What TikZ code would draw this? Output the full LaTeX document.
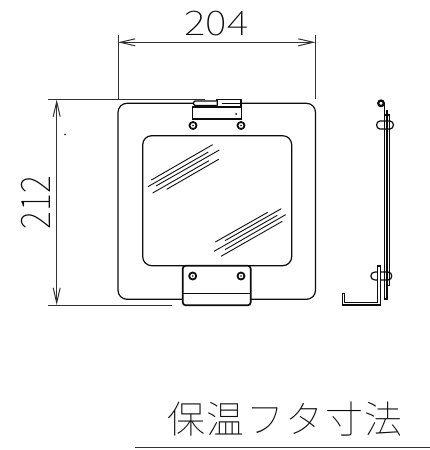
\documentclass[tikz,border=0pt]{standalone}
\usepackage{fontspec}
\usetikzlibrary{arrows.meta}
\newfontfamily\cjklight{Noto Sans CJK JP Thin}
\definecolor{ink}{gray}{0.05}
\tikzset{
  part/.style={draw=ink,line width=1.2pt},
  thick part/.style={draw=ink,line width=1.7pt},
  hatch/.style={draw=ink,line width=0.9pt},
  dimline/.style={draw=ink!85,line width=1pt},
  dimarrow/.style={dimline,{Straight Barb[length=15pt,width=7pt]}-{Straight Barb[length=15pt,width=7pt]}},
  dimtext/.style={font=\cjklight\fontsize{34}{34}\selectfont,inner sep=0pt,text=ink},
  titletext/.style={font=\cjklight\fontsize{38}{38}\selectfont,inner sep=0pt,text=ink},
  bolt/.style={circle,draw=ink,line width=1.8pt,minimum size=7pt,inner sep=0pt},
}
\begin{document}
\begin{tikzpicture}[x=1pt,y=-1pt]
\useasboundingbox[fill=white] (0,0) rectangle (430,450);
% dimension 204
\coordinate (wa) at (118,42.3);
\coordinate (wb) at (315.5,42.3);
\draw[dimarrow] (wa) -- (wb);
\draw[dimline] (118,35) -- (118,99.5);
\draw[dimline] (315.5,35) -- (315.5,99);
\node[dimtext,xscale=1.2] (w) at (216.5,23.5) {204};
% dimension 212
\coordinate (ha) at (56.7,99.5);
\coordinate (hb) at (56.7,305);
\draw[dimarrow] (ha) -- (hb);
\draw[dimline] (48,99.5) -- (205,99.5);
\draw[dimline] (48,305) -- (172,305);
\node[dimtext,xscale=1.2,rotate=90] (h) at (36,202.5) {212};
\fill[ink] (65,134.5) circle (0.8);
% plate
\draw[part,rounded corners=9pt] (118,103.3) rectangle (315.5,299.3);
% window
\draw[part,rounded corners=9pt] (142.7,135.7) rectangle (291.7,265.7);
% hatching
\begin{scope}[shift={(140,130)},x=0.3333pt,y=-0.3333pt]
\foreach \a/\b/\c/\d in {34/150/218/44,24/170/205/66,48/168/238/60,38/189/207/92,80/178/236/88,
 226/336/383/247,255/332/424/236,222/364/412/256,255/359/437/254,243/379/427/274}
  \draw[hatch] (\a,\b) -- (\c,\d);
\end{scope}
% top hinge
\draw[part,fill=white] (192.3,107) rectangle (241.3,119);
\draw[thick part,fill=white] (216.7,99.5) rectangle (241.3,107);
\draw[part,fill=white,rounded corners=1.5pt] (216.7,101) -- (193.5,101) -- (193.5,105.5) -- (216.7,105.5);
\draw[part] (221.7,103.5) -- (241,103.5);
\fill[ink] (236,114) circle (1);
\node[bolt] (b1) at (193,125.5) {};
\node[bolt] (b2) at (241,125.5) {};
\fill[ink] (b1) circle (0.9) (b2) circle (0.9);
% bottom bracket
\draw[thick part,fill=white,rounded corners=3pt] (182.7,305.3) -- (182.7,265.7) -- (250.7,265.7) -- (250.7,305.3) -- cycle;
\draw[part] (182.7,293.3) -- (250.7,293.3);
\node[bolt] (b3) at (192.7,276) {};
\node[bolt] (b4) at (241,276) {};
\fill[ink] (b3) circle (0.9) (b4) circle (0.9);
% side view
\draw[line width=2.2pt,draw=ink] (381,103.3) circle (2.8);
\draw[thick part] (384.4,103) -- (384.4,299.3) -- (387.2,299.3) -- (387.2,110);
\draw[part] (385,115) -- (389.3,115) -- (389.3,285.7) -- (387,285.7);
\draw[part] (380,121) -- (390,121) .. controls (394.5,121) and (394.5,129) .. (390,129) -- (380,129) .. controls (375.5,129) and (375.5,121) .. (380,121) -- cycle;
\draw[part] (375,272) -- (388,272) .. controls (393,272) and (393,280) .. (388,280) -- (375,280) .. controls (369.5,280) and (369.5,272) .. (375,272) -- cycle;
\draw[part,fill=white] (342.3,293.3) -- (342.3,305) -- (380.8,305) -- (380.8,266) -- (377.8,266) -- (377.8,302.3) -- (344.8,302.3) -- (344.8,293.3) -- cycle;
% title
\node[titletext,anchor=base] (t) at (285,433) {\addfontfeature{LetterSpace=4}保温フタ寸法};
\coordinate (ra) at (135,447.5);
\coordinate (rb) at (430,447.5);
\draw[dimline] (ra) -- (rb);
\end{tikzpicture}
\end{document}
